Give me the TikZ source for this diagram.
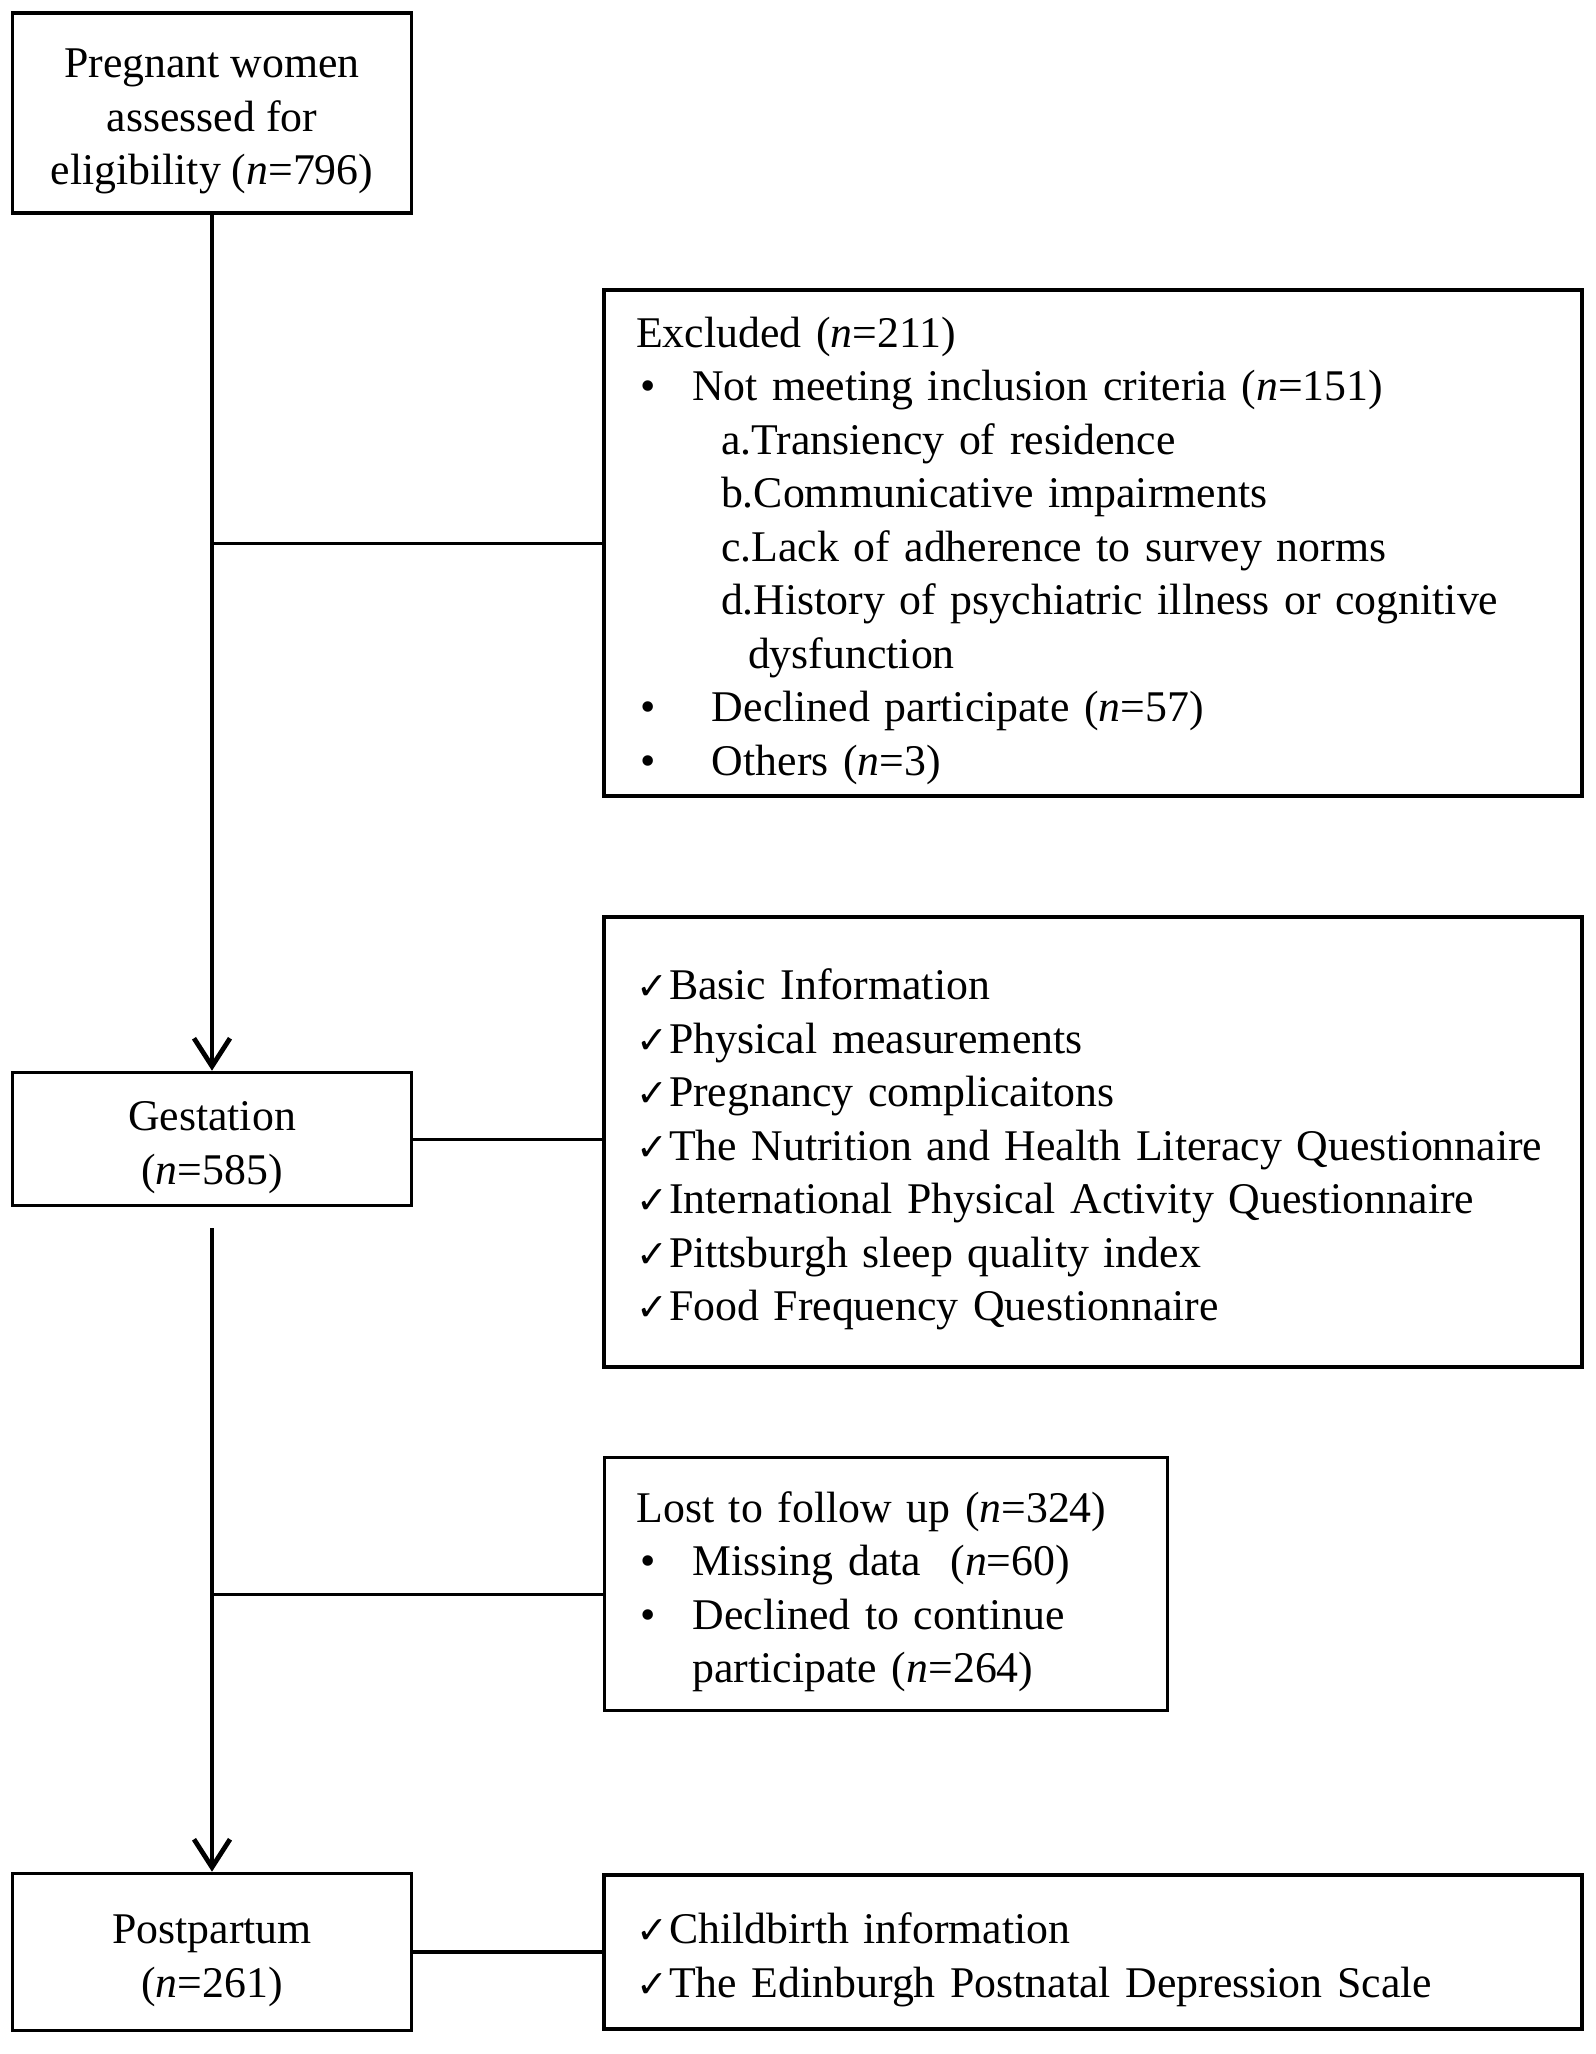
\documentclass[tikz,border=0pt]{standalone}
\usepackage{fontspec}
\setmainfont{Liberation Serif}
\newfontfamily\symfont{DejaVu Sans}
\usetikzlibrary{positioning,arrows.meta}
\newcommand{\ncount}[1]{(\textit{n}=#1)}
\newcommand{\chk}{\makebox[16.5pt][l]{\fontsize{19}{19}\symfont ✓}}
\newcommand{\bul}[1]{\hspace*{2pt}\makebox[#1][l]{•}}
\newcommand{\topstrut}{\rule{0pt}{23pt}}

\begin{document}
\begin{tikzpicture}[on grid, font=\fontsize{21.9}{26.75}\selectfont,
    stage/.style={draw, line width=1.8pt, minimum width=199.5pt, align=center, inner sep=0pt},
    infobox/.style={draw, line width=1.8pt, inner xsep=16pt, inner ysep=0pt, align=left},
    trunk/.style={line width=2.4pt},
    branch/.style={line width=1.5pt}]
    \useasboundingbox (0,0) rectangle (797.5pt,-1027pt);
    % left column
    \node[stage, minimum height=100pt] (assess) at (106pt,-56.5pt) {\topstrut Pregnant women\\assessed for\\eligibility \ncount{796}};
    \node[stage, minimum height=66.5pt] (gest) [below=513pt of assess] {\topstrut Gestation\\\ncount{585}};
    \node[stage, minimum height=78.5pt] (post) [below=406.5pt of gest] {\topstrut Postpartum\\\ncount{261}};
    % right column
    \node[infobox, text width=457pt, minimum height=253pt] (excl) [below right=215pt and 440.5pt of assess] {\topstrut Excluded \ncount{211}\\
        \bul{26pt}Not meeting inclusion criteria \ncount{151}\\
        \hspace*{42.5pt}a.Transiency of residence\\
        \hspace*{42.5pt}b.Communicative impairments\\
        \hspace*{42.5pt}c.Lack of adherence to survey norms\\
        \hspace*{42.5pt}d.History of psychiatric illness or cognitive\\
        \hspace*{56pt}dysfunction\\
        \bul{36pt}Declined participate \ncount{57}\\
        \bul{36pt}Others \ncount{3}};
    \node[infobox, text width=457pt, minimum height=225pt] (check) [below right=1.5pt and 440.5pt of gest] {\topstrut\chk Basic Information\\
        \chk Physical measurements\\
        \chk Pregnancy complicaitons\\
        \chk The Nutrition and Health Literacy Questionnaire\\
        \chk International Physical Activity Questionnaire\\
        \chk Pittsburgh sleep quality index\\
        \chk Food Frequency Questionnaire};
    \node[infobox, text width=249.5pt, minimum height=126.5pt] (lost) [above right=184pt and 337pt of post] {\topstrut Lost to follow up \ncount{324}\\
        \bul{26pt}Missing data\ \ \ncount{60}\\
        \bul{26pt}Declined to continue\\
        \hspace*{28pt}participate \ncount{264}};
    \node[infobox, text width=457pt, minimum height=77pt] (child) [right=440.5pt of post] {\topstrut\chk Childbirth information\\
        \chk The Edinburgh Postnatal Depression Scale};
    % connectors
    \coordinate[below=10.5pt of gest.south] (resume);
    \draw[trunk, -{Straight Barb[length=14pt,width=18pt]}] (assess.south) -- (gest.north);
    \draw[trunk, -{Straight Barb[length=14pt,width=18pt]}] (resume) -- (post.north);
    \draw[branch] (assess.south |- excl.west) -- (excl.west);
    \draw[branch] (gest.east) -- (gest.east -| check.west);
    \draw[branch] ([yshift=-5pt]resume |- lost.west) -- ([yshift=-5pt]lost.west);
    \draw[trunk] (post.east) -- (post.east -| child.west);
\end{tikzpicture}
\end{document}
